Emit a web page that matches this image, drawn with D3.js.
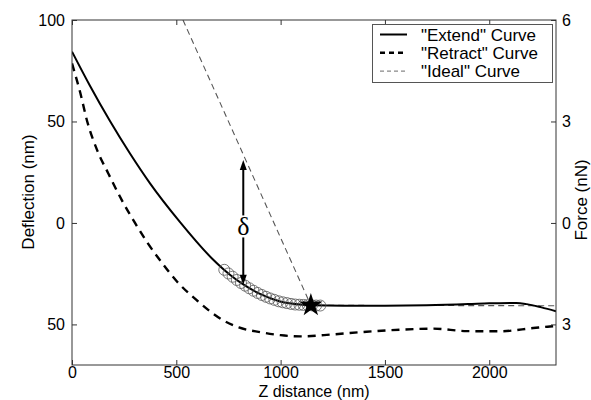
<!DOCTYPE html>
<html><head><meta charset="utf-8">
<script src="https://cdn.jsdelivr.net/npm/d3@7"></script>
<style>body{margin:0;background:#fff}svg{display:block}text{font-family:"Liberation Sans",Arial,Helvetica,sans-serif}</style>
</head><body><svg id="c" width="591" height="400"></svg>
<script>
// ---- data ----
const extendZ = [0, 86, 182, 278, 374, 518, 671, 757, 821, 901, 997, 1117, 1145, 1300, 1500, 1700, 1900, 2000, 2130, 2180, 2250, 2320];
const extendD = [84.4, 67.6, 50.2, 34.2, 19.5, 0.4, -17.5, -25.5, -30.3, -35.0, -38.7, -40.4, -40.6, -40.8, -40.8, -40.6, -40.0, -39.6, -39.4, -40.0, -41.6, -43.5];
const retractZ = [0, 40, 73, 120, 174, 240, 302, 360, 422, 500, 598, 725, 800, 901, 1000, 1093, 1252, 1412, 1572, 1732, 1892, 2051, 2211, 2291, 2320];
const retractD = [78.6, 64, 50, 36, 24.4, 11, 0, -9.5, -18.4, -28.5, -38.1, -48, -51.5, -53.8, -55.3, -55.9, -54.9, -53.6, -52.6, -52.1, -53.3, -53.4, -51.8, -51, -50.8];
const idealZ = [532, 1145, 2320];
const idealD = [100, -40.6, -40.8];
const circleZ = [730, 750, 770, 790, 810, 830, 850, 870, 890, 910, 930, 950, 970, 990, 1010, 1030, 1050, 1070, 1090, 1110, 1130, 1150, 1170, 1190];
const circleD = [-23.1, -24.9, -26.5, -28.1, -29.6, -30.9, -32.2, -33.4, -34.5, -35.5, -36.4, -37.2, -37.9, -38.6, -39.1, -39.5, -39.9, -40.2, -40.3, -40.4, -40.5, -40.6, -40.7, -40.7];
const starZ = 1145, starD = -40.6;
const arrowZ = 821, arrowTopD = 31, arrowBottomD = -30.5;
const xTicks = [0, 500, 1000, 1500, 2000];
const xTickLabels = ["0", "500", "1000", "1500", "2000"];
const yTicks = [100, 50, 0, -50];
const yTickLabels = ["100", "50", "0", "50"];
const y2Ticks = [6, 3, 0, -3];
const y2TickLabels = ["6", "3", "0", "3"];
const legendLabels = ['"Extend" Curve', '"Retract" Curve', '"Ideal" Curve'];

// ---- layout ----
const L = 72, R = 556, T = 20, B = 365;
const svg = d3.select("#c");
const x = d3.scaleLinear().domain([0, 2320]).range([L, R]);
const y = d3.scaleLinear().domain([-70, 100]).range([B, T]);
const y2 = d3.scaleLinear().domain([-4.2, 6]).range([B, T]);
const axisColor = "#333";
const fs = 17, tfs = 16;

svg.append("defs").append("clipPath").attr("id", "clip")
  .append("rect").attr("x", L).attr("y", T).attr("width", R - L).attr("height", B - T);

const plot = svg.append("g").attr("clip-path", "url(#clip)");
const line = d3.line().x(d => x(d[0])).y(d => y(d[1])).curve(d3.curveMonotoneX);
const lineL = d3.line().x(d => x(d[0])).y(d => y(d[1]));

// ideal
plot.append("path").attr("d", lineL(d3.zip(idealZ, idealD)))
  .attr("fill", "none").attr("stroke", "#555").attr("stroke-width", 1.1).attr("stroke-dasharray", "6,4");
// retract
plot.append("path").attr("d", line(d3.zip(retractZ, retractD)))
  .attr("fill", "none").attr("stroke", "#000").attr("stroke-width", 2.4).attr("stroke-dasharray", "8,6");
// extend
plot.append("path").attr("d", line(d3.zip(extendZ, extendD)))
  .attr("fill", "none").attr("stroke", "#000").attr("stroke-width", 2);
// circles
plot.selectAll("circle.m").data(d3.zip(circleZ, circleD)).join("circle")
  .attr("cx", d => x(d[0])).attr("cy", d => y(d[1])).attr("r", 5.5)
  .attr("fill", "none").attr("stroke", "#555").attr("stroke-width", 0.8);
// star
const star = d3.symbol().type(d3.symbolStar).size(170);
plot.append("path").attr("d", star()).attr("transform", `translate(${x(starZ)},${y(starD)})`).attr("fill", "#000");

// arrow with delta
const ax = x(arrowZ), ayT = y(arrowTopD), ayB = y(arrowBottomD);
const textY = (ayT + ayB) / 2 + 13;
svg.append("line").attr("x1", ax).attr("x2", ax).attr("y1", ayT + 8).attr("y2", textY - 20).attr("stroke", "#000").attr("stroke-width", 2);
svg.append("line").attr("x1", ax).attr("x2", ax).attr("y1", textY + 2).attr("y2", ayB - 8).attr("stroke", "#000").attr("stroke-width", 2);
svg.append("path").attr("d", `M${ax},${ayT} L${ax - 3.5},${ayT + 10} L${ax + 3.5},${ayT + 10} Z`).attr("fill", "#000");
svg.append("path").attr("d", `M${ax},${ayB} L${ax - 3.5},${ayB - 10} L${ax + 3.5},${ayB - 10} Z`).attr("fill", "#000");
svg.append("text").attr("x", ax).attr("y", textY).attr("text-anchor", "middle")
  .style("font-family", '"Liberation Serif","DejaVu Serif",serif').style("font-size", "26px").text("δ");

// axes
function styleAxis(g) {
  g.select(".domain").remove();
  g.selectAll("line").attr("stroke", axisColor);
  g.selectAll("text").style("font-size", tfs + "px").attr("fill", "#000");
}
const fmt = (arr, labels) => d => labels[arr.indexOf(d)];
svg.append("g").attr("transform", `translate(0,${B})`)
  .call(d3.axisBottom(x).tickValues(xTicks).tickFormat(fmt(xTicks, xTickLabels)).tickSizeInner(-5).tickSizeOuter(0).tickPadding(2))
  .call(styleAxis);
svg.append("g").attr("transform", `translate(0,${T})`)
  .call(d3.axisTop(x).tickValues(xTicks).tickFormat("").tickSizeInner(-5).tickSizeOuter(0))
  .call(styleAxis);
svg.append("g").attr("transform", `translate(${L},0)`)
  .call(d3.axisLeft(y).tickValues(yTicks).tickFormat(fmt(yTicks, yTickLabels)).tickSizeInner(-5).tickSizeOuter(0).tickPadding(7))
  .call(styleAxis);
svg.append("g").attr("transform", `translate(${R},0)`)
  .call(d3.axisRight(y2).tickValues(y2Ticks).tickFormat(fmt(y2Ticks, y2TickLabels)).tickSizeInner(-5).tickSizeOuter(0).tickPadding(6))
  .call(styleAxis);
svg.append("rect").attr("x", L).attr("y", T).attr("width", R - L).attr("height", B - T)
  .attr("fill", "none").attr("stroke", axisColor).attr("stroke-width", 1);

// axis titles
svg.append("text").attr("x", (L + R) / 2).attr("y", 396.6).attr("text-anchor", "middle").style("font-size", "16px").text("Z distance (nm)");
svg.append("text").attr("transform", "translate(34,192) rotate(-90)").attr("text-anchor", "middle").style("font-size", fs + "px").text("Deflection (nm)");
svg.append("text").attr("transform", "translate(587,200) rotate(-90)").attr("text-anchor", "middle").style("font-size", fs + "px").text("Force (nN)");

// legend
const lg = svg.append("g");
lg.append("rect").attr("x", 372.5).attr("y", 24.5).attr("width", 180).attr("height", 58).attr("fill", "#fff").attr("stroke", "#555");
const lstyles = [{c: "#000", w: 2, da: null}, {c: "#000", w: 2.4, da: "5,4"}, {c: "#888", w: 1.2, da: "4,3"}];
legendLabels.forEach((t, i) => {
  const yy = 34.5 + i * 18.3;
  const s = lstyles[i];
  lg.append("line").attr("x1", 380).attr("x2", 407).attr("y1", yy).attr("y2", yy)
    .attr("stroke", s.c).attr("stroke-width", s.w).attr("stroke-dasharray", s.da);
  lg.append("text").attr("x", 421).attr("y", yy + 6).style("font-size", fs + "px").text(t);
});
</script></body></html>
